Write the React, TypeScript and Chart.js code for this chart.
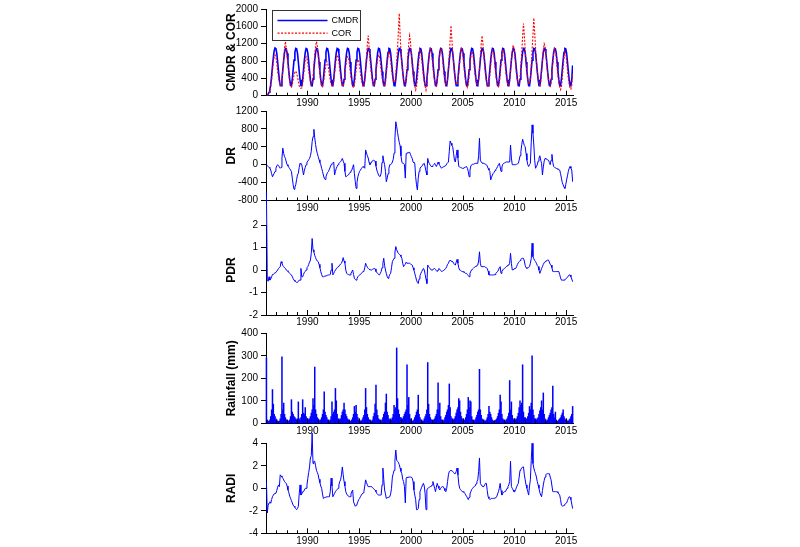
import React, { useEffect, useRef } from "react";
import { Chart, registerables } from "chart.js";
Chart.register(...registerables);

// ---------------- data (monthly, Jan 1986 .. Aug 2015) ----------------
const X_MIN = 1986;
const X_MAX = 2015.66;
const YEAR_LABELS = [1990, 1995, 2000, 2005, 2010, 2015];

const CMDR = [
  0, 15, 40, 80, 140, 260, 450, 680, 880, 1040, 1100, 1080,
  980, 780, 560, 370, 235, 230, 380, 600, 820, 1000, 1090, 1080,
  980, 780, 560, 370, 235, 230, 380, 600, 820, 1000, 1090, 1080,
  980, 780, 560, 370, 235, 230, 380, 600, 820, 1000, 1090, 1080,
  980, 780, 560, 370, 235, 230, 380, 600, 820, 1000, 1090, 1080,
  980, 780, 560, 370, 235, 230, 380, 600, 820, 1000, 1090, 1080,
  980, 780, 560, 370, 235, 230, 380, 600, 820, 1000, 1090, 1080,
  980, 780, 560, 370, 235, 230, 380, 600, 820, 1000, 1090, 1080,
  980, 780, 560, 370, 235, 230, 380, 600, 820, 1000, 1090, 1080,
  980, 780, 560, 370, 235, 230, 380, 600, 820, 1000, 1090, 1080,
  980, 780, 560, 370, 235, 230, 380, 600, 820, 1000, 1090, 1080,
  980, 780, 560, 370, 235, 230, 380, 600, 820, 1000, 1090, 1080,
  980, 780, 560, 370, 235, 230, 380, 600, 820, 1000, 1090, 1080,
  980, 780, 560, 370, 235, 230, 380, 600, 820, 1000, 1090, 1080,
  980, 780, 560, 370, 235, 230, 380, 600, 820, 1000, 1090, 1080,
  980, 780, 560, 370, 235, 230, 380, 600, 820, 1000, 1090, 1080,
  980, 780, 560, 370, 235, 230, 380, 600, 820, 1000, 1090, 1080,
  980, 780, 560, 370, 235, 230, 380, 600, 820, 1000, 1090, 1080,
  980, 780, 560, 370, 235, 230, 380, 600, 820, 1000, 1090, 1080,
  980, 780, 560, 370, 235, 230, 380, 600, 820, 1000, 1090, 1080,
  980, 780, 560, 370, 235, 230, 380, 600, 820, 1000, 1090, 1080,
  980, 780, 560, 370, 235, 230, 380, 600, 820, 1000, 1090, 1080,
  980, 780, 560, 370, 235, 230, 380, 600, 820, 1000, 1090, 1080,
  980, 780, 560, 370, 235, 230, 380, 600, 820, 1000, 1090, 1080,
  980, 780, 560, 370, 235, 230, 380, 600, 820, 1000, 1090, 1080,
  980, 780, 560, 370, 235, 230, 380, 600, 820, 1000, 1090, 1080,
  980, 780, 560, 370, 235, 230, 380, 600, 820, 1000, 1090, 1080,
  980, 780, 560, 370, 235, 230, 380, 600, 820, 1000, 1090, 1080,
  980, 780, 560, 370, 235, 230, 380, 600, 820, 1000, 1090, 1080,
  980, 780, 560, 370, 235, 230, 380, 700,
];

const COR = [
  0, 10, 30, 60, 110, 200, 350, 560, 760, 900, 940, 880,
  760, 560, 420, 300, 250, 230, 330, 600, 820, 1100, 1250, 1100,
  900, 700, 480, 330, 220, 200, 260, 380, 470, 540, 570, 520,
  440, 330, 230, 180, 170, 180, 280, 450, 650, 820, 900, 860,
  750, 580, 420, 320, 260, 300, 450, 700, 950, 1150, 1250, 1150,
  950, 700, 480, 330, 240, 210, 280, 420, 580, 720, 790, 760,
  640, 480, 350, 260, 220, 230, 330, 500, 700, 860, 940, 900,
  780, 600, 440, 320, 250, 220, 300, 480, 680, 840, 900, 880,
  760, 580, 420, 300, 220, 180, 240, 400, 600, 760, 830, 800,
  680, 520, 380, 280, 220, 230, 350, 600, 900, 1200, 1386, 1150,
  850, 620, 440, 320, 250, 230, 320, 500, 700, 860, 940, 900,
  760, 580, 430, 320, 250, 220, 300, 500, 720, 900, 1015, 980,
  820, 620, 460, 350, 300, 320, 500, 800, 1100, 1500, 1900, 1400,
  1000, 750, 520, 360, 280, 250, 380, 650, 950, 1200, 1386, 1250,
  950, 700, 480, 330, 220, 130, 200, 380, 620, 880, 1053, 1000,
  850, 640, 450, 320, 220, 130, 250, 520, 760, 960, 1090, 1050,
  880, 660, 470, 330, 250, 220, 320, 520, 760, 960, 1090, 1060,
  880, 660, 470, 330, 250, 250, 380, 640, 950, 1300, 1620, 1300,
  1000, 760, 520, 380, 300, 260, 330, 520, 760, 960, 1090, 1060,
  880, 660, 460, 320, 230, 190, 270, 460, 700, 900, 1015, 990,
  850, 640, 460, 330, 260, 250, 370, 620, 920, 1200, 1386, 1200,
  950, 700, 490, 340, 240, 190, 260, 460, 700, 920, 1050, 1020,
  880, 660, 460, 320, 240, 210, 300, 500, 740, 940, 1050, 1020,
  880, 660, 460, 330, 250, 230, 330, 560, 800, 1020, 1164, 1100,
  920, 690, 480, 340, 270, 280, 420, 700, 1000, 1350, 1667, 1400,
  1050, 780, 540, 380, 290, 270, 400, 700, 1050, 1400, 1793, 1450,
  1100, 800, 560, 390, 290, 240, 320, 540, 800, 1050, 1200, 1150,
  950, 710, 500, 350, 260, 220, 300, 500, 750, 950, 1090, 1050,
  880, 650, 450, 300, 200, 140, 200, 400, 650, 880, 1015, 980,
  800, 580, 400, 260, 180, 150, 250, 500,
];

const DR = [
  0, -20, -40, -60, -80, -120, -200, -270, -230, -190, -150, -80,
  -30, 0, -20, -50, -80, -60, 150, 370, 250, 180, 140, 60,
  0, -30, -60, -90, -120, -155, -300, -450, -550, -500, -450, -330,
  -230, -190, -60, 30, 10, 0, -120, -230, -120, -60, 0, 60,
  80, 110, 140, 200, 300, 514, 626, 790, 600, 450, 330, 250,
  180, 110, 50, 0, -80, -150, -230, -300, -330, -270, -210, -170,
  -150, -100, -50, 0, 20, 40, 60, -230, -150, -80, -40, 0,
  30, 50, 70, 100, 140, 80, 30, -150, -270, -260, -240, -230,
  -200, -170, -140, -120, -60, 0, -200, -380, -530, -400, -270, -200,
  -150, -120, -90, -60, -40, -60, -80, 330, 260, 200, 150, 50,
  0, 30, 60, 90, 100, 90, 80, -30, -120, -180, -230, -260,
  -260, -190, 50, 200, 80, 0, -150, -380, -300, -200, -80, 0,
  0, 20, 60, 120, 260, 600, 960, 850, 720, 600, 500, 420,
  200, 60, 30, 30, 0, -300, 250, 260, 270, 270, 280, 230,
  180, 140, 60, 40, 30, -270, -450, -565, -300, -150, -90, -50,
  -40, -10, 20, 30, -50, -150, -230, 140, 60, 20, -10, -40,
  -40, -20, 0, 30, 0, -40, 0, 60, 20, -20, -50, -80,
  -60, -50, -40, -40, -20, 20, 40, 60, 300, 530, 480, 430,
  400, 250, 100, 60, 200, 330, 150, -40, -50, -60, -70, -80,
  -80, -70, -60, -50, -40, -80, -150, -270, -120, -30, 0, 10,
  10, 20, 30, 30, 30, 30, 200, 590, 100, 60, 40, 30,
  30, 20, 10, 0, -30, -80, -120, -150, -340, -280, -230, -190,
  -170, -130, -100, -80, -40, 0, 30, -50, -150, -50, 10, 30,
  40, 50, 60, 60, 60, 60, 60, 440, 150, 0, 0, 0,
  0, 0, 10, 20, 30, 100, 200, 290, 450, 570, 500, 430,
  400, 250, 100, 0, -40, 0, 30, 500, 890, 700, 440, 100,
  -80, -40, 0, 80, 150, 200, 100, 30, -230, -50, 80, 140,
  130, 120, 110, 100, 50, 0, 100, 230, 50, -40, -60, -70,
  -80, -90, -100, -110, -120, -200, -300, -400, -450, -500, -530, -450,
  -340, -250, -150, -80, -40, -80, -120, -380,
];

const PDR = [
  3.45, -0.45, -0.5, -0.3, -0.45, -0.4, -0.3, -0.2, -0.2, -0.15, -0.12, -0.1,
  -0.05, 0.0, 0.07, 0.1, 0.15, 0.37, 0.3, 0.2, 0.15, 0.1, 0.07, 0.0,
  -0.03, -0.07, -0.1, -0.15, -0.2, -0.22, -0.3, -0.38, -0.45, -0.5, -0.52, -0.55,
  -0.55, -0.5, -0.45, -0.45, 0.07, -0.3, -0.3, -0.2, -0.1, -0.07, 0.0, 0.1,
  0.15, 0.25, 0.35, 0.44, 0.74, 1.4, 0.9, 0.8, 0.65, 0.55, 0.45, 0.4,
  0.37, 0.25, 0.1, -0.07, -0.2, -0.3, -0.3, -0.28, -0.27, -0.26, -0.25, -0.23,
  -0.22, -0.22, -0.2, 0.0, 0.3, -0.22, -0.15, -0.07, 0.0, 0.05, 0.1, 0.15,
  0.17, 0.22, 0.27, 0.3, 0.4, 0.55, 0.4, 0.3, 0.0, -0.15, -0.18, -0.2,
  -0.22, -0.22, -0.15, -0.07, 0.0, -0.2, -0.37, -0.42, -0.45, -0.38, -0.3, -0.25,
  -0.22, -0.2, -0.15, -0.1, -0.07, -0.05, 0.1, 0.3, 0.2, 0.12, 0.07, 0.03,
  0.02, 0.0, 0.0, 0.03, 0.05, 0.07, 0.05, -0.07, -0.1, -0.15, -0.2, -0.22,
  -0.15, -0.07, 0.1, 0.3, 0.52, 0.2, 0.0, -0.15, -0.3, -0.37, -0.3, -0.2,
  -0.15, 0.1, 0.37, 0.45, 0.52, 0.8, 1.04, 0.9, 0.8, 0.74, 0.7, 0.67,
  0.6, 0.52, 0.3, 0.15, 0.22, 0.25, 0.35, 0.3, 0.3, 0.3, 0.3, 0.27,
  0.25, 0.22, 0.1, 0.0, -0.15, -0.3, -0.45, -0.55, -0.6, -0.4, -0.25, -0.15,
  -0.07, 0.0, 0.07, 0.0, -0.2, -0.4, -0.6, 0.22, 0.15, 0.1, 0.05, 0.0,
  0.0, 0.02, 0.05, 0.07, 0.03, -0.03, -0.07, 0.0, 0.07, 0.03, -0.02, -0.07,
  -0.05, -0.03, 0.0, 0.0, 0.07, 0.15, 0.25, 0.3, 0.4, 0.44, 0.4, 0.38,
  0.37, 0.3, 0.25, 0.22, 0.35, 0.47, 0.3, 0.1, 0.0, -0.02, -0.05, -0.07,
  -0.07, -0.1, -0.12, -0.15, -0.15, -0.2, -0.25, -0.3, -0.15, -0.05, 0.0, 0.05,
  0.08, 0.12, 0.15, 0.17, 0.2, 0.22, 0.4, 0.81, 0.3, 0.15, 0.15, 0.15,
  0.15, 0.15, 0.12, 0.1, 0.07, -0.05, -0.22, -0.22, -0.22, -0.22, -0.22, -0.22,
  -0.22, -0.2, -0.15, -0.1, -0.07, 0.0, 0.1, 0.15, -0.15, -0.05, 0.0, 0.05,
  0.07, 0.1, 0.15, 0.18, 0.22, 0.22, 0.3, 0.74, 0.3, 0.0, 0.02, 0.05,
  0.07, 0.07, 0.15, 0.25, 0.32, 0.37, 0.42, 0.48, 0.52, 0.52, 0.52, 0.4,
  0.2, 0.1, 0.07, 0.1, 0.12, 0.15, 0.3, 0.5, 1.19, 0.59, 0.5, 0.42,
  0.37, 0.3, 0.2, 0.15, 0.0, -0.15, -0.05, 0.07, 0.15, 0.25, 0.32, 0.37,
  0.4, 0.42, 0.44, 0.44, 0.35, 0.25, 0.22, 0.1, -0.07, -0.07, -0.07, -0.07,
  -0.07, -0.07, -0.07, -0.07, -0.2, -0.35, -0.45, -0.45, -0.45, -0.45, -0.42, -0.4,
  -0.37, -0.32, -0.27, -0.22, -0.22, -0.3, -0.4, -0.52,
];

const RAINFALL = [
  290, 15, 10, 8, 15, 30, 60, 150, 85, 40, 30, 20,
  15, 10, 8, 10, 20, 40, 295, 60, 90, 40, 25, 15,
  15, 10, 10, 15, 30, 105, 50, 40, 30, 25, 20, 15,
  20, 95, 20, 15, 25, 40, 105, 45, 40, 70, 30, 20,
  20, 15, 20, 30, 45, 60, 110, 80, 250, 60, 40, 25,
  20, 15, 10, 15, 25, 40, 60, 140, 50, 35, 25, 15,
  15, 10, 15, 30, 95, 40, 50, 60, 155, 100, 40, 20,
  20, 15, 20, 35, 50, 60, 90, 60, 40, 30, 20, 15,
  15, 10, 10, 15, 25, 40, 75, 50, 80, 40, 25, 15,
  15, 10, 10, 15, 25, 35, 60, 155, 70, 40, 25, 15,
  15, 10, 10, 15, 30, 45, 85, 170, 60, 35, 20, 15,
  15, 10, 15, 25, 40, 50, 90, 130, 50, 35, 20, 15,
  20, 15, 25, 40, 80, 60, 70, 335, 110, 60, 40, 25,
  25, 20, 20, 30, 40, 50, 60, 260, 80, 115, 40, 20,
  15, 10, 10, 15, 25, 35, 50, 60, 125, 40, 25, 15,
  15, 10, 10, 20, 30, 40, 60, 270, 85, 40, 25, 15,
  15, 10, 15, 20, 30, 40, 60, 180, 60, 90, 30, 15,
  15, 10, 15, 25, 35, 50, 60, 80, 175, 70, 30, 20,
  20, 15, 20, 30, 45, 60, 70, 110, 100, 50, 30, 20,
  15, 10, 15, 25, 40, 60, 115, 70, 100, 95, 30, 15,
  15, 10, 15, 25, 35, 50, 60, 240, 60, 35, 20, 15,
  15, 10, 10, 15, 25, 40, 75, 50, 40, 25, 15, 10,
  10, 10, 15, 20, 30, 45, 60, 125, 95, 40, 20, 15,
  15, 10, 15, 20, 30, 45, 190, 60, 95, 35, 20, 15,
  20, 15, 20, 30, 45, 70, 100, 80, 90, 260, 50, 25,
  25, 20, 20, 30, 45, 75, 60, 90, 300, 60, 35, 20,
  20, 15, 20, 25, 40, 55, 70, 100, 60, 135, 40, 20,
  15, 10, 15, 25, 35, 45, 60, 70, 165, 40, 25, 50,
  15, 10, 10, 15, 20, 25, 35, 45, 60, 30, 20, 15,
  15, 10, 10, 15, 20, 30, 40, 75,
];

const RADI = [
  0.6, -2.2, -1.5, -1.3, -1.2, -1.33, -1.0, -0.75, -0.6, -0.5, -0.45, -0.44,
  -0.2, 0.1, 0.3, 0.15, 1.2, 1.1, 1.0, 0.9, 0.75, 0.6, 0.5, 0.44,
  0.2, -0.15, -0.4, -0.7, -0.9, -1.1, -1.3, -1.5, -1.6, -1.7, -1.8, -1.9,
  -1.8, -1.6, -0.5, 0.3, -0.6, -0.5, -0.3, -0.3, -0.15, 0.0, 0.0, 0.3,
  0.9, 1.4, 1.9, 2.7, 2.9, 4.9, 2.2, 2.4, 2.4, 2.0, 1.6, 1.4,
  1.2, 0.8, 0.5, 0.2, 0.0, -0.5, -0.9, -0.85, -0.8, -0.78, -0.75, -0.75,
  -0.75, -0.75, -0.3, 0.9, 0.2, -0.75, -0.6, -0.45, -0.3, -0.2, -0.1, 0.0,
  0.3, 0.6, 0.75, 1.2, 1.9, 1.2, 0.6, 0.2, -0.3, -0.5, -0.6, -0.7,
  -0.75, -0.75, -0.5, -0.3, -0.15, -1.2, -1.4, -1.6, -1.5, -1.4, -1.2, -1.0,
  -0.9, -0.75, -0.6, -0.5, -0.4, -0.3, 0.2, 0.75, 0.5, 0.3, 0.15, 0.15,
  0.15, 0.15, 0.15, 0.05, 0.0, -0.1, -0.15, -0.3, -0.45, -0.55, -0.6, -0.6,
  -0.6, -0.6, 0.3, 1.8, 0.8, -0.15, -0.5, -0.9, -0.85, -0.8, -0.78, -0.75,
  -0.5, 0.0, 1.0, 1.3, 1.6, 2.5, 3.4, 2.5, 2.4, 2.3, 2.1, 1.8,
  1.5, 1.3, 0.8, 0.6, 0.15, -1.3, 0.9, 1.0, 0.95, 1.0, 1.0, 1.0,
  1.0, 0.9, 0.6, -0.15, -0.6, -1.0, -1.9, -1.9, -1.8, -1.0, -0.3, -0.1,
  0.1, 0.3, 0.44, 0.2, -0.5, -1.9, -0.15, 0.0, 0.05, 0.1, 0.15, 0.15,
  0.3, 0.6, 0.3, 0.0, -0.3, 0.1, 0.44, 0.2, 0.0, -0.15, 0.0, 0.1,
  0.15, 0.15, 0.0, -0.2, -0.3, 0.0, 0.6, 1.2, 1.5, 1.55, 1.6, 1.6,
  1.5, 1.4, 1.3, 1.3, 1.5, 1.8, 1.2, 0.4, 0.0, -0.1, -0.2, -0.3,
  -0.3, -0.35, -0.45, -0.6, -0.7, -0.85, -1.0, -0.8, -0.5, -0.3, -0.1, 0.0,
  0.1, 0.15, 0.2, 0.4, 0.6, 0.75, 1.5, 2.7, 0.44, 0.3, 0.2, 0.15,
  0.15, 0.3, 0.44, 0.44, -0.2, -0.75, -0.9, -1.0, -0.95, -0.9, -0.9, -0.9,
  -0.9, -0.85, -0.8, -0.75, -0.5, -0.3, 0.0, 0.44, -0.2, -0.6, -0.45, -0.35,
  -0.3, -0.3, -0.15, 0.0, 0.15, 0.3, 0.6, 2.4, 0.15, 0.0, -0.15, -0.3,
  -0.3, -0.1, 0.1, 0.3, 0.44, 1.0, 1.6, 1.7, 1.8, 1.9, 1.9, 1.2,
  0.75, 0.3, 0.0, -0.3, -0.6, 0.2, 0.75, 2.5, 4.0, 2.2, 1.8, 1.5,
  1.3, 1.0, 0.6, 0.3, 0.0, -0.4, -0.6, -0.75, -0.2, 0.3, 0.7, 1.0,
  1.2, 1.3, 1.3, 1.3, 1.3, 1.0, 0.75, 0.75, -0.3, -0.3, -0.3, -0.3,
  -0.3, -0.3, -0.4, -0.5, -0.6, -1.0, -1.5, -1.55, -1.6, -1.5, -1.4, -1.35,
  -1.3, -1.1, -0.9, -0.75, -0.8, -1.0, -1.4, -1.8,
];

// ---------------- helpers ----------------
const monthX = (i: number) => 1986 + (i + 0.5) / 12;
const toPoints = (arr: number[]) => arr.map((y, i) => ({ x: monthX(i), y }));

const BLUE = "#0000ff";
const RED = "#ff0000";
const FONT = "'Liberation Sans', Arial, Helvetica, sans-serif";

const yearTicks = {
  id: "yearTicks",
  afterDraw(chart: any) {
    const xs = chart.scales.x;
    const bottom = chart.chartArea.bottom;
    const ctx = chart.ctx;
    ctx.save();
    ctx.strokeStyle = "#000";
    ctx.lineWidth = 1;
    for (let yr = 1986; yr <= 2015; yr++) {
      const px = Math.round(xs.getPixelForValue(yr)) + 0.5;
      const len = yr % 5 === 0 ? 5 : 3;
      ctx.beginPath();
      ctx.moveTo(px, bottom);
      ctx.lineTo(px, bottom - len);
      ctx.stroke();
    }
    ctx.restore();
  },
};

const boxLegend = {
  id: "boxLegend",
  afterDraw(chart: any) {
    const a = chart.chartArea;
    const ctx = chart.ctx;
    const x0 = Math.round(a.left + 6) + 0.5;
    const y0 = Math.round(a.top + 1) + 0.5;
    ctx.save();
    ctx.fillStyle = "#fff";
    ctx.fillRect(x0, y0, 88, 30);
    ctx.strokeStyle = "#333";
    ctx.lineWidth = 1;
    ctx.strokeRect(x0, y0, 88, 30);
    chart.data.datasets.forEach((ds: any, i: number) => {
      const y = y0 + 10 + i * 12.6;
      ctx.strokeStyle = ds.borderColor;
      ctx.lineWidth = ds.borderWidth;
      ctx.setLineDash(ds.borderDash || []);
      ctx.beginPath();
      ctx.moveTo(x0 + 5, y);
      ctx.lineTo(x0 + 55, y);
      ctx.stroke();
      ctx.setLineDash([]);
      ctx.fillStyle = "#000";
      ctx.font = `9px ${FONT}`;
      ctx.textBaseline = "middle";
      ctx.fillText(ds.label, x0 + 59, y + 0.5);
    });
    ctx.restore();
  },
};

type Panel = {
  top: number;
  bottom: number;
  title: string;
  min: number;
  max: number;
  step: number;
  type: "line" | "bar";
  datasets: any[];
  legend?: boolean;
};

const PANELS: Panel[] = [
  {
    top: 5.7, bottom: 95.7, title: "CMDR & COR", min: 0, max: 2000, step: 400, type: "line", legend: true,
    datasets: [
      { label: "CMDR", data: toPoints(CMDR), borderColor: BLUE, borderWidth: 1.6, pointRadius: 0, order: 2 },
      { label: "COR", data: toPoints(COR), borderColor: RED, borderWidth: 1.1, borderDash: [2, 1.5], pointRadius: 0, order: 1 },
    ],
  },
  {
    top: 111, bottom: 200.5, title: "DR", min: -800, max: 1200, step: 400, type: "line",
    datasets: [{ label: "DR", data: toPoints(DR), borderColor: BLUE, borderWidth: 1, pointRadius: 0 }],
  },
  {
    top: 225, bottom: 315, title: "PDR", min: -2, max: 2, step: 1, type: "line",
    datasets: [{ label: "PDR", data: toPoints(PDR), borderColor: BLUE, borderWidth: 1, pointRadius: 0, clip: false }],
  },
  {
    top: 333.3, bottom: 423.3, title: "Rainfall (mm)", min: 0, max: 400, step: 100, type: "bar",
    datasets: [{ label: "Rainfall", data: toPoints(RAINFALL), backgroundColor: BLUE, borderWidth: 0, barPercentage: 1, categoryPercentage: 1, clip: false }],
  },
  {
    top: 443.3, bottom: 533.3, title: "RADI", min: -4, max: 4, step: 2, type: "line",
    datasets: [{ label: "RADI", data: toPoints(RADI), borderColor: BLUE, borderWidth: 1, pointRadius: 0, clip: false }],
  },
];

function makeConfig(p: Panel): any {
  return {
    type: p.type,
    data: { datasets: p.datasets },
    plugins: p.legend ? [yearTicks, boxLegend] : [yearTicks],
    options: {
      responsive: false,
      maintainAspectRatio: false,
      animation: false,
      devicePixelRatio: 1,
      events: [],
      layout: {
        autoPadding: false,
        padding: { left: 220, right: 227, top: p.top, bottom: 547 - p.bottom - 14 },
      },
      plugins: { legend: { display: false }, tooltip: { enabled: false } },
      elements: { line: { tension: 0 } },
      scales: {
        x: {
          type: "linear",
          min: X_MIN,
          max: X_MAX,
          offset: false,
          afterBuildTicks: (s: any) => {
            s.ticks = YEAR_LABELS.map((v) => ({ value: v }));
          },
          afterFit: (s: any) => {
            s.height = 14;
          },
          grid: { display: false, drawTicks: false, offset: false },
          border: { display: true, color: "#000", width: 1 },
          ticks: {
            autoSkip: false,
            maxRotation: 0,
            minRotation: 0,
            padding: 1.5,
            color: "#000",
            font: { size: 10, family: FONT },
            callback: (v: any) => String(v),
          },
        },
        y: {
          type: "linear",
          min: p.min,
          max: p.max,
          afterFit: (s: any) => {
            s.width = 46;
          },
          ticks: {
            stepSize: p.step,
            color: "#000",
            padding: 3,
            font: { size: 10, family: FONT },
            callback: (v: any) => String(v),
          },
          grid: { display: true, drawOnChartArea: false, drawTicks: true, tickLength: 5, color: "#000" },
          border: { display: true, color: "#000", width: 1 },
          title: {
            display: true,
            text: p.title,
            color: "#000",
            font: { size: 12, weight: "bold", family: FONT },
            padding: { top: 4, bottom: 0 },
          },
        },
      },
    },
  };
}

export default function App() {
  const refs = useRef<(HTMLCanvasElement | null)[]>([]);

  useEffect(() => {
    Chart.defaults.font.family = FONT;
    Chart.defaults.color = "#000";
    const charts = PANELS.map((p, i) => {
      const c = refs.current[i] as HTMLCanvasElement;
      return new Chart(c, makeConfig(p));
    });
    return () => charts.forEach((ch) => ch.destroy());
  }, []);

  return (
    <div style={{ position: "absolute", left: 0, top: 0, width: 800, height: 547, background: "#fff", overflow: "hidden" }}>
      {PANELS.map((p, i) => (
        <canvas
          key={p.title}
          ref={(el) => {
            refs.current[i] = el;
          }}
          width={800}
          height={547}
          style={{ position: "absolute", left: 0, top: 0, width: 800, height: 547 }}
        />
      ))}
    </div>
  );
}
